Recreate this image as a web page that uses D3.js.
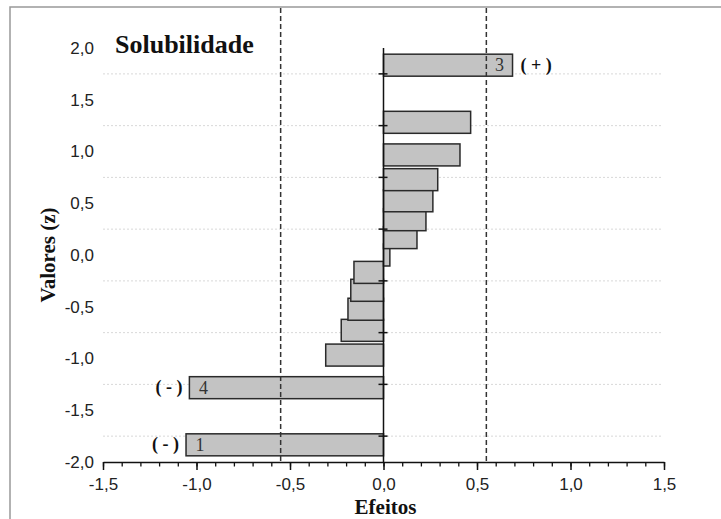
<!DOCTYPE html>
<html>
<head>
<meta charset="utf-8">
<script src="https://cdn.jsdelivr.net/npm/d3@7"></script>
<style>
  body { margin: 0; background: #fff; }
  svg { display: block; }
</style>
</head>
<body>
<svg class="chart"></svg>
<script>
// normal scores (z) and effect values, bottom to top
var zValues = [-1.834, -1.282, -0.967, -0.728, -0.524, -0.341, -0.168, 0, 0.168, 0.341, 0.524, 0.728, 0.967, 1.282, 1.834]
var effects = [-1.056, -1.038, -0.309, -0.226, -0.19, -0.175, -0.158, 0.034, 0.179, 0.227, 0.264, 0.29, 0.409, 0.466, 0.69]
var barNames = ["1", "4", "", "", "", "", "", "", "", "", "", "", "", "", "3"]
var barSigns = ["( - )", "( - )", "", "", "", "", "", "", "", "", "", "", "", "", "( + )"]
var xTicks = [-1.5, -1.0, -0.5, 0.0, 0.5, 1.0, 1.5]
var yTicks = [-2.0, -1.5, -1.0, -0.5, 0.0, 0.5, 1.0, 1.5, 2.0]
var gridValues = [-1.75, -1.25, -0.75, -0.25, 0.25, 0.75, 1.25, 1.75]
var limit = 0.55

var width = 721,
    height = 519,
    barH = 22

var svg = d3.select(".chart")
    .attr("width", width)
    .attr("height", height)

var x = d3.scaleLinear().domain([-1.5, 1.5]).range([103, 664])
var y = d3.scaleLinear().domain([-2, 2]).range([462, 48])
var fmt = d => d3.format(".1f")(d).replace(".", ",").replace("−", "-")

// outer frame (left and top only)
svg.append("path")
    .attr("d", "M10,519V7H721")
    .attr("fill", "none")
    .attr("stroke", "#999")
    .attr("stroke-width", 1.5)

// grid
svg.append("g")
    .selectAll("line")
    .data(gridValues)
    .join("line")
    .attr("x1", x(-1.5))
    .attr("x2", x(1.49))
    .attr("y1", d => y(d))
    .attr("y2", d => y(d))
    .attr("stroke", "#d8d8d8")
    .attr("stroke-dasharray", "2,2")

// bars
svg.append("g")
    .selectAll("rect")
    .data(effects)
    .join("rect")
    .attr("x", d => x(Math.min(0, d)))
    .attr("width", d => Math.abs(x(d) - x(0)))
    .attr("y", (d, i) => y(zValues[i]) - barH / 2)
    .attr("height", barH)
    .attr("fill", "#c3c3c3")
    .attr("stroke", "#2a2a2a")
    .attr("stroke-width", 1.5)

// bar numbers and signs
svg.append("g")
    .selectAll("text")
    .data(effects)
    .join("text")
    .attr("x", d => d < 0 ? x(d) + 14 : x(d) - 13)
    .attr("y", (d, i) => y(zValues[i]))
    .attr("dy", "0.35em")
    .attr("text-anchor", "middle")
    .style("font", "18px 'Liberation Serif', serif")
    .attr("fill", "#333")
    .text((d, i) => barNames[i])

svg.append("g")
    .selectAll("text")
    .data(effects)
    .join("text")
    .attr("x", d => d < 0 ? x(d) - 7 : x(d) + 8)
    .attr("y", (d, i) => y(zValues[i]))
    .attr("dy", "0.3em")
    .attr("text-anchor", d => d < 0 ? "end" : "start")
    .style("font", "bold 18px 'Liberation Serif', serif")
    .attr("fill", "#111")
    .text((d, i) => barSigns[i])

// dashed limits
svg.append("g")
    .selectAll("line")
    .data([-limit, limit])
    .join("line")
    .attr("x1", d => x(d))
    .attr("x2", d => x(d))
    .attr("y1", 8)
    .attr("y2", y(-2))
    .attr("stroke", "#333")
    .attr("stroke-width", 1.5)
    .attr("stroke-dasharray", "5,3")

// vertical axis at zero
svg.append("line")
    .attr("x1", x(0)).attr("x2", x(0))
    .attr("y1", y(2)).attr("y2", y(-2))
    .attr("stroke", "#111")
    .attr("stroke-width", 1.5)

svg.append("g")
    .selectAll("line")
    .data(gridValues)
    .join("line")
    .attr("x1", x(0) - 5)
    .attr("x2", x(0) + 4)
    .attr("y1", d => y(d))
    .attr("y2", d => y(d))
    .attr("stroke", "#111")
    .attr("stroke-width", 1.5)

// x axis
var xMinor = svg.append("g")
    .attr("transform", `translate(0,${y(-2)})`)
    .call(d3.axisBottom(x).ticks(30).tickSize(4.5).tickFormat(""))
xMinor.select(".domain").remove()
xMinor.selectAll("line").attr("stroke", "#111").attr("stroke-width", 1.3)

var xAxis = svg.append("g")
    .attr("transform", `translate(0,${y(-2)})`)
    .call(d3.axisBottom(x).tickValues(xTicks).tickSize(8).tickSizeOuter(0).tickPadding(8).tickFormat(fmt))
xAxis.select(".domain").attr("stroke", "#111").attr("stroke-width", 1.5)
xAxis.selectAll("line").attr("stroke", "#111").attr("stroke-width", 1.5)
xAxis.selectAll("text")
    .style("font", "17px 'Liberation Sans', Arial, sans-serif")
    .attr("fill", "#222")

// y labels (no axis line)
var yAxis = svg.append("g")
    .attr("transform", "translate(94,0)")
    .call(d3.axisLeft(y).tickValues(yTicks).tickSize(0).tickPadding(0).tickFormat(fmt))
yAxis.select(".domain").remove()
yAxis.selectAll("text")
    .style("font", "17px 'Liberation Sans', Arial, sans-serif")
    .attr("fill", "#222")

// titles
svg.append("text")
    .attr("x", 115)
    .attr("y", 53)
    .style("font", "bold 26px 'Liberation Serif', serif")
    .attr("fill", "#111")
    .text("Solubilidade")

svg.append("text")
    .attr("x", x(0) + 2)
    .attr("y", 514)
    .attr("text-anchor", "middle")
    .style("font", "bold 21px 'Liberation Serif', serif")
    .attr("fill", "#111")
    .text("Efeitos")

svg.append("text")
    .attr("transform", "translate(55,255) rotate(-90)")
    .attr("text-anchor", "middle")
    .style("font", "bold 21px 'Liberation Serif', serif")
    .attr("fill", "#111")
    .text("Valores (z)")
</script>
</body>
</html>
